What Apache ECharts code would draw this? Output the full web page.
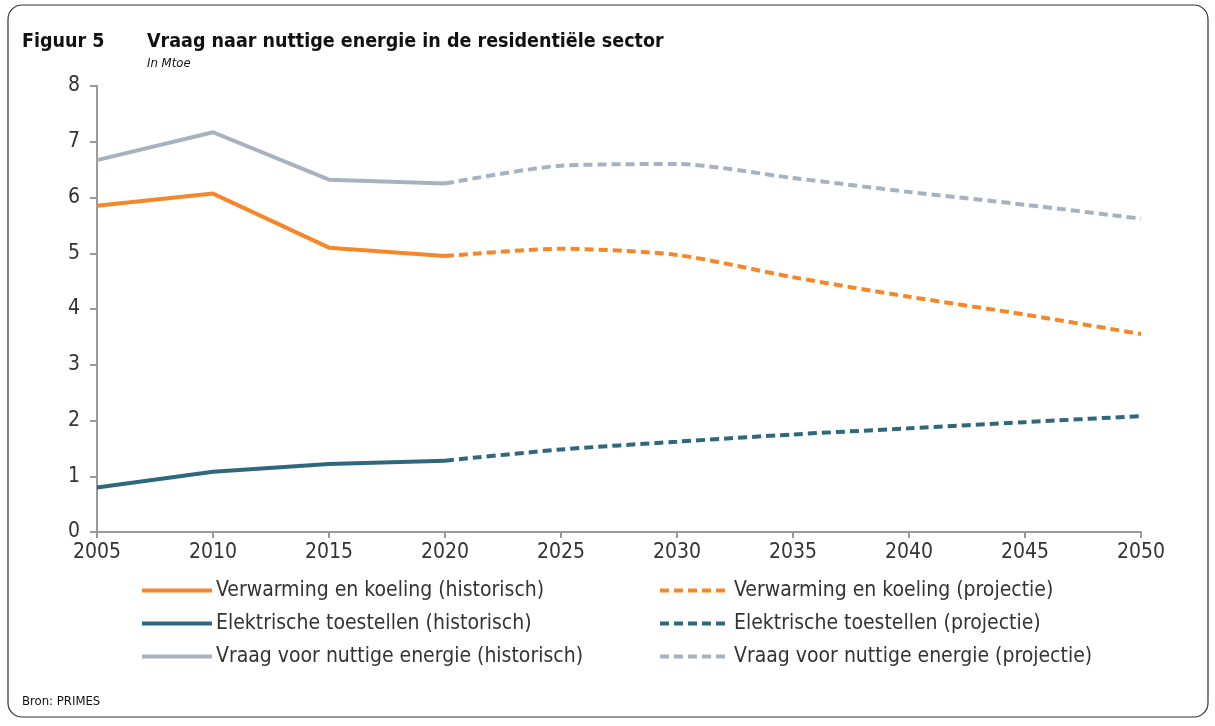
<!DOCTYPE html>
<html>
<head>
<meta charset="utf-8">
<script src="https://cdn.jsdelivr.net/npm/echarts@6/dist/echarts.min.js"></script>
<style>
  html, body { margin: 0; padding: 0; background: #fff; }
  #chart { width: 1215px; height: 726px; }
</style>
</head>
<body>
<div id="chart"></div>
<script>
// jaren op de x-as
var years = ['2005', '2010', '2015', '2020', '2025', '2030', '2035', '2040', '2045', '2050'];

// Mtoe, historisch t/m 2020, projectie vanaf 2020
var heatHist = [5.85, 6.07, 5.1, 4.95, null, null, null, null, null, null];
var heatProj = [null, null, null, 4.95, 5.08, 4.97, 4.57, 4.22, 3.9, 3.55];
var elecHist = [0.8, 1.08, 1.22, 1.28, null, null, null, null, null, null];
var elecProj = [null, null, null, 1.28, 1.48, 1.62, 1.75, 1.86, 1.97, 2.08];
var totalHist = [6.67, 7.17, 6.32, 6.25, null, null, null, null, null, null];
var totalProj = [null, null, null, 6.25, 6.57, 6.6, 6.35, 6.1, 5.87, 5.62];

var ORANGE = '#F5872A';
var TEAL = '#2F687C';
var GREY = '#A7B2C0';
var FONT = 'DejaVu Sans Condensed';

function line(name, data, color, dashed) {
	return {
		name : name,
		type : 'line',
		data : data,
		symbol : 'none',
		smooth : dashed ? 0.25 : false,
		connectNulls : false,
		lineStyle : {
			color : color,
			width : 4,
			type : dashed ? [9, 5] : 'solid',
			cap : 'butt'
		},
		itemStyle : { color : color }
	};
}

var names = [
	'Verwarming en koeling (historisch)', 'Verwarming en koeling (projectie)',
	'Elektrische toestellen (historisch)', 'Elektrische toestellen (projectie)',
	'Vraag voor nuttige energie (historisch)', 'Vraag voor nuttige energie (projectie)'
];

function legendCol(items, left) {
	return {
		data : items,
		orient : 'vertical',
		left : left,
		top : 580,
		padding : 0,
		itemWidth : 70,
		itemHeight : 14,
		itemGap : 12,
		lineStyle : { width : 4 },
		itemStyle : { opacity : 0 },
		textStyle : { fontSize : 21, color : '#333', fontFamily : FONT, padding : [0, 0, 0, -1] }
	};
}

var myChart = echarts.init(document.getElementById('chart'));
var option = {
	animation : false,
	textStyle : { fontFamily : FONT },
	graphic : [ {
		type : 'rect',
		shape : { x : 8, y : 5, width : 1200, height : 712, r : 14 },
		style : { fill : 'none', stroke : '#333', lineWidth : 1.2 }
	}, {
		type : 'text', left : 22, top : 32,
		style : { text : 'Figuur 5', font : 'bold 19.5px "DejaVu Sans Condensed"', fill : '#111' }
	}, {
		type : 'text', left : 147, top : 32,
		style : { text : 'Vraag naar nuttige energie in de residentiële sector', font : 'bold 19.5px "DejaVu Sans Condensed"', fill : '#111' }
	}, {
		type : 'text', left : 147, top : 57,
		style : { text : 'In Mtoe', font : 'italic 13px "DejaVu Sans Condensed"', fill : '#111' }
	}, {
		type : 'text', left : 22, top : 695,
		style : { text : 'Bron: PRIMES', font : '13px "DejaVu Sans Condensed"', fill : '#111' }
	} ],
	legend : [
		legendCol([ names[0], names[2], names[4] ], 140),
		legendCol([ names[1], names[3], names[5] ], 658)
	],
	grid : {
		left : 97,
		right : 74,
		top : 86,
		bottom : 194
	},
	xAxis : {
		type : 'category',
		data : years,
		boundaryGap : false,
		axisLine : { lineStyle : { color : '#999', width : 2 } },
		axisTick : { alignWithLabel : true, length : 6, lineStyle : { color : '#999', width : 2 } },
		axisLabel : { color : '#333', fontSize : 21, margin : 10, fontFamily : FONT }
	},
	yAxis : {
		type : 'value',
		min : 0,
		max : 8,
		interval : 1,
		splitLine : { show : false },
		axisLine : { show : true, lineStyle : { color : '#999', width : 2 } },
		axisTick : { show : true, length : 7, lineStyle : { color : '#999', width : 2 } },
		axisLabel : { color : '#333', fontSize : 21, margin : 17, fontFamily : FONT }
	},
	series : [
		line(names[0], heatHist, ORANGE, false),
		line(names[1], heatProj, ORANGE, true),
		line(names[2], elecHist, TEAL, false),
		line(names[3], elecProj, TEAL, true),
		line(names[4], totalHist, GREY, false),
		line(names[5], totalProj, GREY, true)
	]
};
myChart.setOption(option);
</script>
</body>
</html>
